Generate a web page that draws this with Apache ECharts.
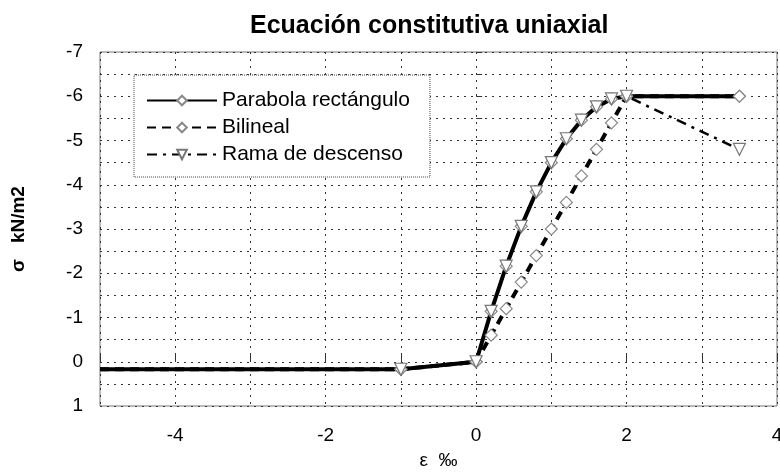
<!DOCTYPE html>
<html>
<head>
<meta charset="utf-8">
<script src="https://cdn.jsdelivr.net/npm/echarts@6/dist/echarts.min.js"></script>
<style>html,body{margin:0;padding:0;background:#fff}#c{width:780px;height:473px}</style>
</head>
<body>
<div id="c"></div>
<script>
// strain values (‰)
var strain = [-5, -1, 0, 0.2, 0.4, 0.6, 0.8, 1.0, 1.2, 1.4, 1.6, 1.8, 2.0, 3.5];
// stress values (kN/m2)
var parabolaRect = [0.17, 0.17, 0, -1.14, -2.16, -3.06, -3.84, -4.5, -5.04, -5.46, -5.76, -5.94, -6, -6];
var bilineal = [0.17, 0.17, 0, -0.6, -1.2, -1.8, -2.4, -3.0, -3.6, -4.2, -4.8, -5.4, -6, -6];
var ramaDescenso = [0.17, 0.17, 0, -1.14, -2.16, -3.06, -3.84, -4.5, -5.04, -5.46, -5.76, -5.94, -6, -4.8];
var seriesNames = ['Parabola rectángulo', 'Bilineal', 'Rama de descenso'];
var xTicks = [-4, -2, 0, 2, 4];
var yTicks = [-7, -6, -5, -4, -3, -2, -1, 0, 1];

function pairs(ys) {
  return strain.map(function (x, i) {
    var item = { value: [x, ys[i]] };
    if (i === 0) item.symbolSize = 0;
    return item;
  });
}

var chart = echarts.init(document.getElementById('c'), null, { renderer: 'canvas' });
var font = 'Liberation Sans, Arial, sans-serif';
chart.setOption({
  animation: false,
  backgroundColor: '#fff',
  title: {
    text: 'Ecuación constitutiva uniaxial',
    left: 245, top: 9,
    textStyle: { fontFamily: font, fontSize: 25, fontWeight: 'bold', color: '#000' }
  },
  grid: {
    left: 100, right: 3, top: 52, bottom: 67,
    containLabel: false, outerBoundsMode: 'none',
    show: true, borderColor: '#777', borderWidth: 1
  },
  legend: {
    orient: 'vertical',
    left: 134, top: 75,
    data: seriesNames,
    itemWidth: 70, itemHeight: 12, itemGap: 6,
    padding: [15, 20, 12, 12],
    borderColor: '#444', borderWidth: 1, borderType: 'dotted',
    backgroundColor: '#fff',
    textStyle: { fontFamily: font, fontSize: 21, color: '#000', lineHeight: 21 }
  },
  xAxis: {
    type: 'value', min: -5, max: 4, interval: 1,
    name: 'ε  ‰', nameLocation: 'middle', nameGap: 45,
    nameTextStyle: { fontFamily: font, fontSize: 19, color: '#000' },
    axisLine: { show: false },
    axisTick: { show: true, inside: true, length: 7, lineStyle: { color: '#333' } },
    axisLabel: {
      margin: 20, fontFamily: font, fontSize: 19, color: '#000',
      formatter: function (v) { return xTicks.indexOf(v) >= 0 ? String(v) : ''; }
    },
    splitLine: { show: true, lineStyle: { color: '#333', type: [2, 5], width: 1 } }
  },
  yAxis: {
    type: 'value', min: -7, max: 1, interval: 0.5, inverse: true,
    name: 'σ   kN/m2', nameLocation: 'middle', nameGap: 72, nameRotate: 90,
    nameTextStyle: { fontFamily: font, fontSize: 19, fontWeight: 'bold', color: '#000' },
    axisLine: { show: false },
    axisTick: { show: true, inside: true, length: 6, lineStyle: { color: '#333' } },
    axisLabel: {
      margin: 17, fontFamily: font, fontSize: 19, color: '#000',
      formatter: function (v) { return yTicks.indexOf(v) >= 0 ? String(v) : ''; }
    },
    splitLine: { show: true, lineStyle: { color: '#333', type: [2, 5], width: 1 } }
  },
  series: [
    {
      name: seriesNames[0], type: 'line', data: pairs(parabolaRect),
      symbol: 'diamond', symbolSize: 12, showAllSymbol: true,
      lineStyle: { color: '#000', width: 4, type: 'solid' },
      itemStyle: { color: '#fff', borderColor: '#888', borderWidth: 1.2 }
    },
    {
      name: seriesNames[1], type: 'line', data: pairs(bilineal),
      symbol: 'diamond', symbolSize: 12, showAllSymbol: true,
      lineStyle: { color: '#000', width: 4, type: [9, 6] },
      itemStyle: { color: '#fff', borderColor: '#888', borderWidth: 1.2 }
    },
    {
      name: seriesNames[2], type: 'line', data: pairs(ramaDescenso),
      symbol: 'triangle', symbolRotate: 180, symbolSize: 12, showAllSymbol: true,
      lineStyle: { color: '#000', width: 2.5, type: [10, 6, 3, 6] },
      itemStyle: { color: '#fff', borderColor: '#777', borderWidth: 1.2 }
    }
  ]
});
</script>
</body>
</html>
